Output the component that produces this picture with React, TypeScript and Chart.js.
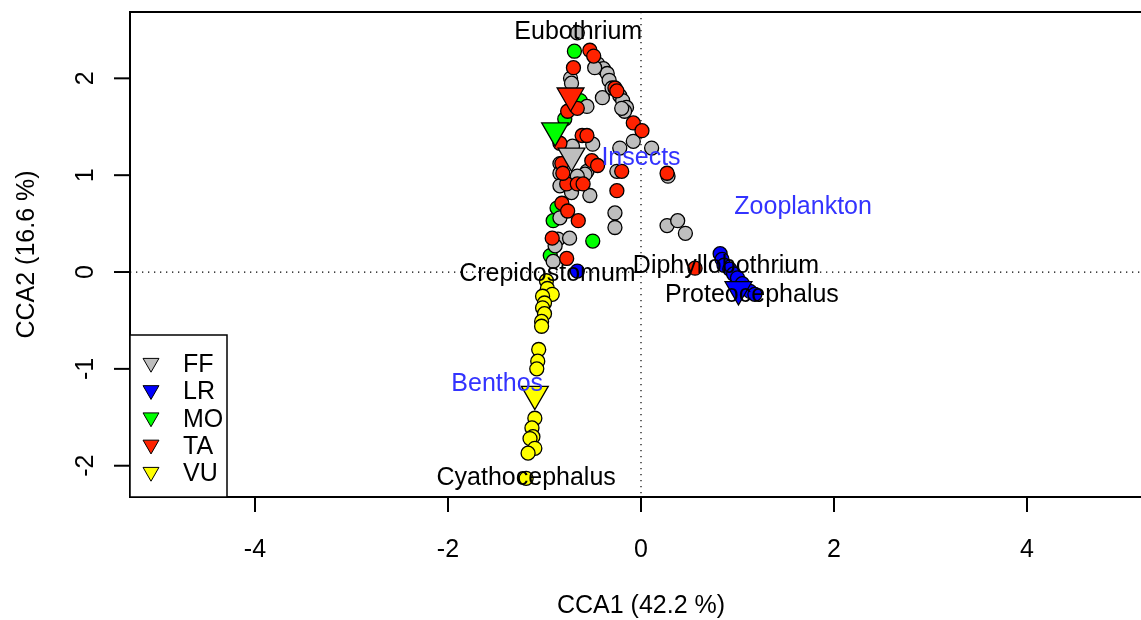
import React, { useEffect, useRef } from "react";
import { Chart, registerables } from "chart.js";
Chart.register(...registerables);

// ---- data ----
const groupNames = ["FF", "LR", "MO", "TA", "VU"];
const groupColors = ["#bebebe", "#0000ff", "#00ff00", "#ff2200", "#ffff00"];

const ffX = [-0.66, -0.73, -0.72, -0.56, -0.45, -0.39, -0.35, -0.33, -0.22, -0.19, -0.15, -0.17, -0.08, 0.11, -0.40, -0.48, -0.30, -0.20, -0.50, -0.71, -0.56, -0.84, -0.25, -0.22, 0.28, -0.58, -0.84, -0.66, -0.84, -0.72, -0.53, -0.84, -0.27, -0.27, 0.27, 0.38, 0.46, -0.86, -0.74, -0.89, -0.91];
const ffY = [2.47, 2.00, 1.95, 1.71, 2.15, 2.10, 2.05, 1.98, 1.82, 1.77, 1.70, 1.66, 1.35, 1.28, 1.80, 2.11, 1.90, 1.69, 1.32, 1.30, 1.04, 1.12, 1.04, 1.28, 0.99, 1.01, 1.02, 0.99, 0.89, 0.82, 0.79, 0.56, 0.61, 0.46, 0.48, 0.53, 0.40, 0.34, 0.35, 0.27, 0.11];

const lrX = [0.82, 0.84, 0.86, 0.92, 0.96, 1.00, 1.05, 1.08, 1.13, 1.18, -0.66];
const lrY = [0.19, 0.13, 0.07, 0.03, -0.02, -0.06, -0.12, -0.17, -0.20, -0.23, 0.01];

const moX = [-0.69, -0.63, -0.79, -0.87, -0.91, -0.50, -0.94];
const moY = [2.28, 1.77, 1.58, 0.66, 0.53, 0.32, 0.17];

const taX = [-0.70, -0.53, -0.49, -0.27, -0.25, -0.76, -0.66, -0.61, -0.56, -0.08, 0.01, -0.84, -0.51, -0.82, -0.45, -0.20, 0.27, -0.77, -0.66, -0.60, -0.25, -0.82, -0.76, -0.65, -0.92, -0.77, 0.56, -0.81];
const taY = [2.11, 2.29, 2.23, 1.90, 1.87, 1.66, 1.69, 1.41, 1.41, 1.54, 1.46, 1.33, 1.15, 1.12, 1.10, 1.04, 1.02, 0.91, 0.91, 0.91, 0.84, 0.71, 0.63, 0.53, 0.35, 0.14, 0.04, 1.02];

const vuX = [-0.98, -0.97, -0.92, -1.02, -1.00, -1.02, -1.00, -1.03, -1.03, -1.06, -1.07, -1.08, -1.10, -1.13, -1.12, -1.15, -1.10, -1.17, -1.19];
const vuY = [-0.09, -0.17, -0.23, -0.25, -0.32, -0.37, -0.43, -0.51, -0.56, -0.80, -0.92, -1.00, -1.51, -1.61, -1.70, -1.72, -1.82, -1.87, -2.13];

const centroidX = [-0.72, 1.01, -0.89, -0.73, -1.10];
const centroidY = [1.20, -0.18, 1.46, 1.82, -1.26];

const speciesNames = ["Eubothrium", "Crepidostomum", "Diphyllobothrium", "Proteocephalus", "Cyathocephalus"];
const speciesX = [-0.65, -0.97, 0.88, 1.15, -1.19];
const speciesY = [2.50, 0.00, 0.08, -0.22, -2.11];

const envNames = ["Insects", "Zooplankton", "Benthos"];
const envX = [0.0, 1.68, -1.49];
const envY = [1.20, 0.69, -1.14];

const xTicks = [-4, -2, 0, 2, 4];
const yTicks = [-2, -1, 0, 1, 2];
const xTitle = "CCA1 (42.2 %)";
const yTitle = "CCA2 (16.6 %)";
const xMin = -5.295, xMax = 5.181;
const yMin = -2.323, yMax = 2.685;

const FONT = "25px 'Liberation Sans', Arial, Helvetica, sans-serif";

const zip = (xs: number[], ys: number[]) => xs.map((v, i) => ({ x: v, y: ys[i] }));

const overlay = {
  id: "overlay",
  beforeDatasetsDraw(chart: any) {
    const { ctx, chartArea: a, scales } = chart;
    const x0 = scales.x.getPixelForValue(0);
    const y0 = scales.y.getPixelForValue(0);
    ctx.save();
    ctx.strokeStyle = "#000";
    ctx.lineWidth = 1.2;
    ctx.setLineDash([1.3, 4.7]);
    ctx.beginPath();
    ctx.moveTo(x0, a.top);
    ctx.lineTo(x0, a.bottom);
    ctx.moveTo(a.left, y0);
    ctx.lineTo(a.right, y0);
    ctx.stroke();
    ctx.restore();
  },
  afterDatasetsDraw(chart: any) {
    const { ctx, chartArea: a, scales } = chart;
    const sx = scales.x, sy = scales.y;
    ctx.save();
    ctx.font = FONT;
    ctx.textAlign = "center";
    ctx.textBaseline = "alphabetic";
    // species labels
    ctx.fillStyle = "#000";
    speciesNames.forEach((n, i) => {
      ctx.fillText(n, sx.getPixelForValue(speciesX[i]), sy.getPixelForValue(speciesY[i]) + 9);
    });
    // environmental labels
    ctx.fillStyle = "#3333ff";
    envNames.forEach((n, i) => {
      ctx.fillText(n, sx.getPixelForValue(envX[i]), sy.getPixelForValue(envY[i]) + 9);
    });

    // box
    ctx.fillStyle = "#000";
    ctx.strokeStyle = "#000";
    ctx.lineWidth = 2;
    ctx.beginPath();
    ctx.moveTo(a.right + 10, a.top);
    ctx.lineTo(a.left, a.top);
    ctx.lineTo(a.left, a.bottom);
    ctx.lineTo(a.right + 10, a.bottom);
    ctx.stroke();

    // x ticks
    xTicks.forEach((v) => {
      const px = sx.getPixelForValue(v);
      ctx.beginPath();
      ctx.moveTo(px, a.bottom);
      ctx.lineTo(px, a.bottom + 15);
      ctx.stroke();
      ctx.fillText(String(v), px, 548 + 9);
    });
    // y ticks
    yTicks.forEach((v) => {
      const py = sy.getPixelForValue(v);
      ctx.beginPath();
      ctx.moveTo(a.left - 16, py);
      ctx.lineTo(a.left, py);
      ctx.stroke();
      ctx.save();
      ctx.translate(84, py);
      ctx.rotate(-Math.PI / 2);
      ctx.fillText(String(v), 0, 9);
      ctx.restore();
    });
    // titles
    ctx.fillText(xTitle, sx.getPixelForValue(0), 604 + 9);
    ctx.save();
    ctx.translate(25, (a.top + a.bottom) / 2);
    ctx.rotate(-Math.PI / 2);
    ctx.fillText(yTitle, 0, 9);
    ctx.restore();

    // legend
    const lx = a.left, ly = 335, lw = 97, lh = a.bottom - 335;
    ctx.fillStyle = "#fff";
    ctx.fillRect(lx, ly, lw, lh);
    ctx.lineWidth = 1.5;
    ctx.strokeRect(lx, ly, lw, lh);
    ctx.textAlign = "left";
    groupNames.forEach((n, i) => {
      const cy = 363 + i * 27.25;
      const cx = lx + 21;
      const r = 9.2;
      ctx.beginPath();
      ctx.moveTo(cx, cy + r);
      ctx.lineTo(cx - r * 0.866, cy - r / 2);
      ctx.lineTo(cx + r * 0.866, cy - r / 2);
      ctx.closePath();
      ctx.fillStyle = groupColors[i];
      ctx.fill();
      ctx.lineWidth = 1;
      ctx.strokeStyle = "#000";
      ctx.stroke();
      ctx.fillStyle = "#000";
      ctx.fillText(n, lx + 53, cy + 9);
    });
    ctx.restore();
  },
};

export default function App() {
  const ref = useRef<HTMLCanvasElement | null>(null);
  useEffect(() => {
    if (!ref.current) return;
    const pointSets = [
      { i: 2, data: zip(moX, moY), order: 6 },
      { i: 0, data: zip(ffX, ffY), order: 5 },
      { i: 3, data: zip(taX, taY), order: 4 },
      { i: 4, data: zip(vuX, vuY), order: 3 },
      { i: 1, data: zip(lrX, lrY), order: 2 },
    ];
    const datasets: any[] = pointSets.map((s) => ({
      label: groupNames[s.i],
      data: s.data,
      order: s.order,
      pointStyle: "circle",
      pointRadius: 7,
      pointBorderWidth: 1.3,
      pointBackgroundColor: groupColors[s.i],
      pointBorderColor: "#000",
      showLine: false,
    }));
    groupNames.forEach((g, i) => {
      datasets.push({
        label: g + " centroid",
        data: [{ x: centroidX[i], y: centroidY[i] }],
        order: 1,
        pointStyle: "triangle",
        rotation: 180,
        pointRadius: 15.5,
        pointBorderWidth: 1.3,
        pointBackgroundColor: groupColors[i],
        pointBorderColor: "#000",
        showLine: false,
      });
    });
    const chart = new Chart(ref.current, {
      type: "scatter",
      data: { datasets },
      options: {
        animation: false,
        responsive: true,
        maintainAspectRatio: false,
        devicePixelRatio: 1,
        layout: { autoPadding: false, padding: { left: 130, top: 12, right: 0, bottom: 123 } },
        scales: {
          x: { type: "linear", min: xMin, max: xMax, display: false },
          y: { type: "linear", min: yMin, max: yMax, display: false },
        },
        plugins: { legend: { display: false }, tooltip: { enabled: false } },
      },
      plugins: [overlay],
    });
    return () => chart.destroy();
  }, []);
  return (
    <div style={{ position: "absolute", left: 0, top: 0, width: 1141, height: 620, background: "#fff" }}>
      <canvas ref={ref} />
    </div>
  );
}
